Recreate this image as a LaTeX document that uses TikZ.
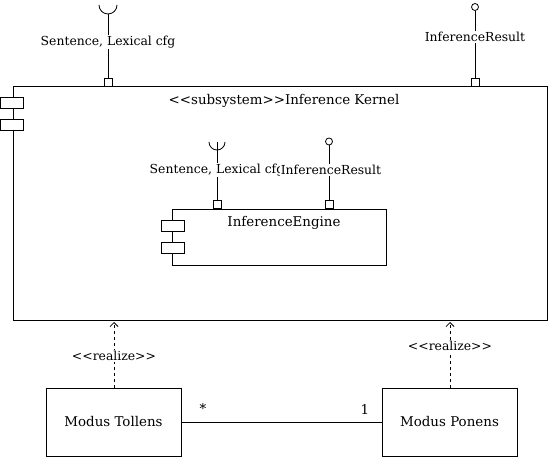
\documentclass[tikz,border=0pt]{standalone}
\usepackage{fontspec}
\setmainfont{DejaVu Serif}[Ligatures=TeXOff]
\usetikzlibrary{arrows.meta}

\tikzset{every picture/.style={line width=0.8pt}}
\tikzset{
  comp/.style={draw, rectangle, inner sep=0pt},
  tab/.style={draw, fill=white, rectangle, minimum width=23, minimum height=11, inner sep=0pt},
  port/.style={draw, fill=white, rectangle, minimum size=8, inner sep=0pt},
  ball/.style={draw, circle, minimum size=7, inner sep=0pt},
  lbl/.style={fill=white, inner sep=1pt, font=\fontsize{12.4}{14}\selectfont},
  cname/.style={inner sep=1pt, font=\fontsize{13.4}{15}\selectfont},
  realize/.style={dashed, -{Straight Barb[length=4pt,width=8pt]}},
}

\begin{document}
\begin{tikzpicture}[x=1pt,y=1pt,yscale=-1,xscale=1]
\useasboundingbox (0,0) rectangle (554,473);

%Subsystem box
\node [comp, minimum width=534, minimum height=234] (kernel) at (280,203) {};
\node [tab] (ktab1) at (11.5,102.5) {};
\node [tab] (ktab2) at (11.5,124.5) {};
% Text Node
\node [cname] (ktitle) at (284,101) {<<subsystem>>Inference Kernel};

%Ports on subsystem
\node [port] (kin) at (108,82) {};
\node [port] (kout) at (475,82) {};
%Socket
\draw (99,5) arc [start angle=180, end angle=0, radius=9];
\coordinate (ksock) at (108,14);
\draw (ksock) -- (kin);
%Lollipop
\node [ball] (kball) at (475,7) {};
\draw (kball) -- (kout);
% Text Node
\node [lbl] (kinlbl) at (108,42) {Sentence, Lexical cfg};
% Text Node
\node [lbl] (koutlbl) at (475,37) {InferenceResult};

%Inner component
\node [comp, minimum width=214, minimum height=56] (engine) at (279,237) {};
\node [tab] (etab1) at (172.5,225.5) {};
\node [tab] (etab2) at (172.5,248) {};
% Text Node
\node [cname] (etitle) at (284,223) {InferenceEngine};

\node [port] (ein) at (217,204.5) {};
\node [port] (eout) at (329,204.5) {};
\draw (209,142) arc [start angle=180, end angle=0, radius=8];
\coordinate (esock) at (217,142);
\draw (esock) -- (ein);
\node [ball] (eball) at (329,141.5) {};
\draw (eball) -- (eout);
% Text Node
\node [lbl] (einlbl) at (217,170) {Sentence, Lexical cfg};
% Text Node
\node [lbl] (eoutlbl) at (331,170) {InferenceResult};

%Realizing classes
\node [comp, minimum width=135, minimum height=68, cname] (tollens) at (113.5,422) {Modus Tollens};
\node [comp, minimum width=135, minimum height=68, cname] (ponens) at (449.5,422) {Modus Ponens};

\coordinate (treal) at (114,322);
\coordinate (preal) at (450,322);
\draw [realize] (tollens.north -| treal) -- (treal);
\draw [realize] (ponens.north -| preal) -- (preal);
% Text Node
\node [lbl] (tlbl) at (114,356) {<<realize>>};
% Text Node
\node [lbl] (plbl) at (450,346) {<<realize>>};

%Association
\draw (tollens) -- (ponens);
% Text Node
\node [cname] (tmult) at (203,409) {*};
% Text Node
\node [cname] (pmult) at (365,410) {1};

\end{tikzpicture}
\end{document}
